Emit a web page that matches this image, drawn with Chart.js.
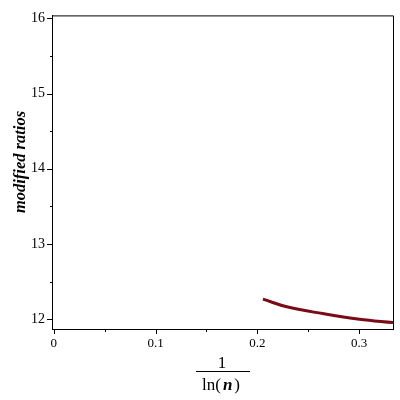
<!DOCTYPE html>
<html>
<head>
<meta charset="utf-8">
<script src="https://cdn.jsdelivr.net/npm/chart.js@4/dist/chart.umd.min.js"></script>
<style>
  html, body { margin: 0; padding: 0; background: #fff; }
  #wrap { width: 400px; height: 400px; }
</style>
</head>
<body>
<div id="wrap"><canvas id="ratioChart" width="400" height="400"></canvas></div>
<script>
// x = 1/ln(n), y = modified ratio
const xValues = [0.2055, 0.230, 0.2643, 0.3003, 0.3333];
const yValues = [12.267, 12.162, 12.075, 12.0, 11.955];
const yTicks = [12, 13, 14, 15, 16];
const xTicks = [0, 0.1, 0.2, 0.3];

const serif = "'Liberation Serif', 'DejaVu Serif', serif";

// tick marks, full frame and the titles
const framePlugin = {
    id: "framePlugin",
    afterDraw(chart) {
        const c = chart.ctx;
        const a = chart.chartArea;
        const xs = chart.scales.x, ys = chart.scales.y;
        c.save();
        c.strokeStyle = "#000";
        c.lineWidth = 1;
        c.beginPath();
        c.moveTo(a.left, a.top + 0.5);
        c.lineTo(a.right + 0.5, a.top + 0.5);
        c.lineTo(a.right + 0.5, a.bottom);
        c.stroke();

        // y ticks (major on integers, minor on halves)
        yTicks.forEach(v => {
            const py = Math.round(ys.getPixelForValue(v)) + 0.5;
            c.beginPath(); c.moveTo(a.left - 5, py); c.lineTo(a.left, py); c.stroke();
            [v - 0.5, v + 0.5].forEach(m => {
                if (m > ys.min && m < ys.max && (m !== v - 0.5 || v === yTicks[0])) {
                    const pm = Math.round(ys.getPixelForValue(m)) + 0.5;
                    c.beginPath(); c.moveTo(a.left - 2, pm); c.lineTo(a.left, pm); c.stroke();
                }
            });
        });
        // x ticks
        xTicks.forEach(v => {
            const px = Math.round(xs.getPixelForValue(v)) + 0.5;
            c.beginPath(); c.moveTo(px, a.bottom); c.lineTo(px, a.bottom + 5); c.stroke();
            const pm = Math.round(xs.getPixelForValue(v + 0.05)) + 0.5;
            if (v + 0.05 < xs.max) { c.beginPath(); c.moveTo(pm, a.bottom); c.lineTo(pm, a.bottom + 3); c.stroke(); }
        });

        c.fillStyle = "#000";
        // y title
        c.save();
        c.translate(25, 162);
        c.rotate(-Math.PI / 2);
        c.textAlign = "center";
        c.textBaseline = "alphabetic";
        c.font = "italic bold 16.5px " + serif;
        c.fillText("modified ratios", 0, 0);
        c.restore();

        // x title: 1 / ln(n)
        const cx = 222;
        c.textBaseline = "alphabetic";
        c.textAlign = "center";
        c.font = "17px " + serif;
        c.fillText("1", cx, 368);
        c.beginPath(); c.moveTo(196, 371.5); c.lineTo(250, 371.5); c.stroke();
        const parts = [
            { t: "ln", f: "17px " + serif },
            { t: "(", f: "17px " + serif },
            { t: "n", f: "italic bold 17px " + serif },
            { t: ")", f: "17px " + serif }
        ];
        let total = 0;
        parts.forEach(p => { c.font = p.f; p.w = c.measureText(p.t).width; total += p.w; });
        total += 6;
        let x = cx - total / 2;
        c.textAlign = "left";
        parts.forEach((p, i) => {
            c.font = p.f;
            c.fillText(p.t, x, 390);
            x += p.w + (i > 0 ? 2 : 0);
        });
        c.restore();
    }
};

new Chart(document.getElementById("ratioChart"), {
    type: "line",
    data: {
        datasets: [{
            label: "modified ratios",
            data: xValues.map((x, i) => ({ x: x, y: yValues[i] })),
            borderColor: "#7a0a16",
            borderWidth: 3,
            pointRadius: 0,
            tension: 0.4,
            fill: false
        }]
    },
    options: {
        responsive: false,
        animation: false,
        layout: { padding: { top: 12, right: 7, left: 0, bottom: 0 } },
        plugins: { legend: { display: false }, tooltip: { enabled: false } },
        scales: {
            x: {
                type: "linear",
                min: -0.0017,
                max: 0.3333,
                afterFit: s => { s.height = 71; },
                afterBuildTicks: s => { s.ticks = xTicks.map(v => ({ value: v })); },
                grid: { display: false, drawTicks: false },
                border: { display: true, color: "#000", width: 1 },
                ticks: {
                    color: "#000",
                    padding: 7,
                    maxRotation: 0,
                    font: { family: serif, size: 13 },
                    callback: v => String(Math.round(v * 10) / 10)
                }
            },
            y: {
                type: "linear",
                min: 11.87,
                max: 16.04,
                afterFit: s => { s.width = 52; },
                afterBuildTicks: s => { s.ticks = yTicks.map(v => ({ value: v })); },
                grid: { display: false, drawTicks: false },
                border: { display: true, color: "#000", width: 1 },
                ticks: {
                    color: "#000",
                    padding: 7,
                    font: { family: serif, size: 14 },
                    callback: v => String(v)
                }
            }
        }
    },
    plugins: [framePlugin]
});
</script>
</body>
</html>
